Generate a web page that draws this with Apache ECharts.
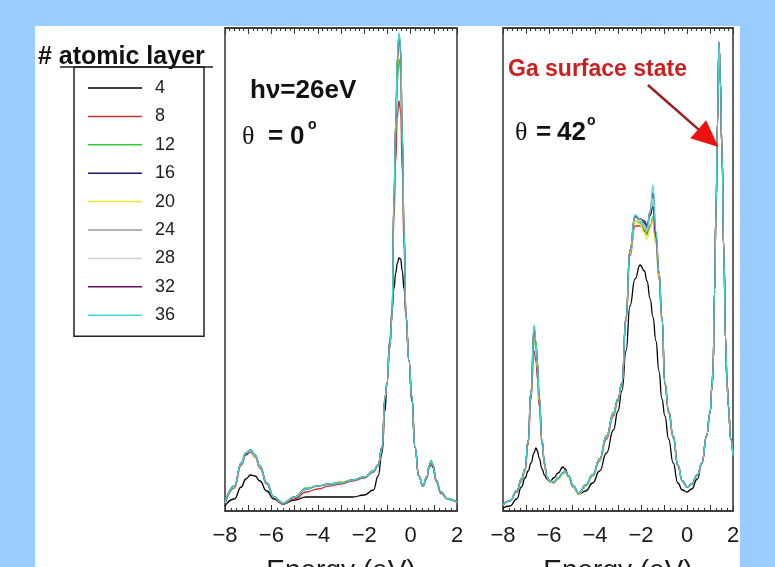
<!DOCTYPE html>
<html><head><meta charset="utf-8">
<script src="https://cdn.jsdelivr.net/npm/echarts@6/dist/echarts.min.js"></script>
<style>html,body{margin:0;padding:0;background:#99ccff;}#c{width:775px;height:567px;}</style>
</head><body><div id="c"></div>
<script>
// ---------- DATA ----------
const layerNames = ['4','8','12','16','20','24','28','32','36'];
const xTicks = [-8,-6,-4,-2,0,2];

// theta = 0 panel (hv = 26 eV)
const energyL = [-8,-7.6,-7.3,-7.1,-6.9,-6.7,-6.5,-6.2,-5.9,-5.5,-5.0,-4.5,-4.0,-3.5,-3.0,-2.5,-2.0,-1.6,-1.4,-1.23,-1.1,-1.02,-0.9,-0.8,-0.72,-0.64,-0.57,-0.5,-0.43,-0.36,-0.28,-0.2,-0.07,0.05,0.19,0.35,0.53,0.7,0.8,0.88,0.96,1.1,1.3,1.6,2.0];
const L4  = [5,12,24,32,36,35,30,20,12,7, 11,14,14,14,14,14,16,21,35,58, 100,128,170,200,222,238,248,253,252,240, 222,195,150,110,64,35,25,33,43,48, 44,30,18,12,9];
const L8  = [7,23,46,56,59,54,43,27,13,7, 12,19,22,25,27,30,33,39,45,62, 112,127,163,193,290,350,395,410,400,340, 260,192,150,114,63,35,25,33,44,49, 45,30,18,12,9];
const L12 = [8,25,48,58,60,55,44,28,14,8, 14,23,25,27,29,31,34,40,46,64, 114,128,165,195,300,375,430,452,440,365, 272,195,150,115,64,35,25,34,45,50, 46,31,19,12,9];
const L16 = [8,24,47,57,60,56,45,28,14,8, 14,22,25,27,28,31,34,40,46,64, 114,128,165,195,308,385,448,470,458,375, 278,195,150,115,64,35,25,34,45,50, 46,31,19,12,9];
const L20 = [8,24,47,58,60,55,44,28,14,8, 14,22,25,27,29,31,34,40,46,63, 113,128,165,194,306,383,445,466,455,373, 276,194,150,115,64,35,25,34,45,50, 46,31,19,12,9];
const L24 = [8,25,48,58,61,56,45,28,14,8, 14,22,25,27,28,31,34,40,46,64, 114,128,165,195,309,387,450,472,460,377, 279,195,150,115,64,35,25,34,45,50, 46,31,19,12,9];
const L28 = [8,25,48,58,61,56,45,28,14,8, 14,22,25,27,28,31,34,40,46,64, 114,128,165,195,310,388,452,474,462,378, 280,195,150,115,64,35,25,34,45,50, 46,31,19,12,9];
const L32 = [8,25,48,58,61,56,45,28,14,8, 14,22,25,27,28,31,34,40,46,64, 114,128,165,195,310,389,453,476,463,379, 280,195,150,115,64,35,25,34,45,50, 46,31,19,12,9];
const L36 = [8,25,48,58,61,56,45,28,14,8, 14,22,25,27,28,31,34,40,46,64, 114,128,165,195,311,390,455,478,465,380, 280,195,150,115,64,35,25,34,45,50, 46,31,19,12,9];

// theta = 42 panel
const energyR = [-8,-7.7,-7.4,-7.2,-7.04,-6.91,-6.78,-6.65,-6.57,-6.5, -6.43,-6.3,-6.2,-6.09,-5.96,-5.8,-5.6,-5.4,-5.3,-5.15, -4.95,-4.7,-4.4,-4.1,-3.8,-3.5,-3.2,-3.0,-2.83,-2.65, -2.48,-2.26,-2.04,-1.85,-1.74,-1.6,-1.48,-1.35,-1.22,-1.09, -0.96,-0.8,-0.6,-0.4,-0.2,0.0,0.2,0.45,0.65,0.85, 1.0,1.09,1.13,1.2,1.26,1.33,1.39,1.45,1.52,1.6, 1.68,1.74,1.8,1.9,2.0];
const R4  = [3,5,12,24,33,40,48,58,63,60, 53,42,36,32,29,33,38,44,42,35, 24,17,20,28,40,58,81,100,120,160, 205,232,246,240,230,212,194,170,140,112, 95,72,48,28,21,19,22,32,48,75, 98,125,140,220,300,390,466,430,361,260, 170,128,105,72,55];
const R8  = [6,10,19,30,40,66,112,160,150,132, 105,66,46,33,29,28,32,37,39,34, 24,17,25,35,50,72,95,110,126,190, 255,285,285,280,278,285,290,268,232,190, 126,98,73,45,30,24,27,36,48,75, 98,125,140,220,300,388,465,428,360,260, 170,128,105,72,55];
const R12 = [6,10,20,31,41,69,117,175,162,142, 110,69,47,34,29,28,32,37,39,34, 24,17,25,35,51,74,97,111,127,192, 258,290,288,282,276,285,294,270,236,192, 127,99,74,46,30,24,27,36,48,75, 98,125,140,220,300,389,467,429,361,260, 170,128,105,72,55];
const R16 = [6,10,20,32,42,70,120,180,166,146, 113,70,48,34,30,29,33,38,40,35, 25,18,26,36,52,75,98,112,128,194, 261,294,292,288,284,300,318,278,238,194, 128,100,75,46,30,24,27,36,48,75, 98,125,140,220,300,390,468,430,361,260, 170,128,105,72,55];
const R20 = [6,10,20,31,41,69,117,176,163,143, 111,69,47,34,29,28,32,37,39,34, 24,17,25,35,51,74,97,111,127,192, 258,290,286,278,272,282,290,266,234,192, 127,99,74,46,30,24,27,36,48,75, 98,125,140,220,300,389,467,429,361,260, 170,128,105,72,55];
const R24 = [6,10,20,32,42,70,120,182,168,147, 114,70,48,34,30,29,33,38,40,35, 25,18,26,36,52,75,98,112,128,194, 261,294,290,284,280,295,308,274,238,194, 128,100,75,46,30,24,27,36,48,75, 98,125,140,220,300,390,468,430,361,260, 170,128,105,72,55];
const R28 = [6,10,20,32,42,70,121,183,168,147, 114,71,48,34,30,29,33,38,40,35, 25,18,26,36,52,75,98,112,128,194, 261,295,291,285,281,297,312,276,239,194, 128,100,75,46,30,24,27,36,48,75, 98,125,140,220,300,390,469,430,361,260, 170,128,105,72,55];
const R32 = [6,10,20,32,42,71,121,184,169,148, 115,71,48,34,30,29,33,38,40,35, 25,18,26,36,52,75,98,112,128,194, 261,295,292,290,286,296,304,274,239,194, 128,100,75,46,30,24,27,36,48,75, 98,125,140,220,300,390,469,430,361,260, 170,128,105,72,55];
const R36 = [6,10,20,32,42,71,121,186,170,148, 115,71,48,34,30,29,33,38,40,35, 25,18,26,36,52,75,98,112,128,194, 261,296,292,286,282,300,326,280,240,194, 128,100,75,46,30,24,27,36,48,75, 98,125,140,220,300,390,469,430,361,260, 170,128,105,72,55];

// arrow annotation (data coords of the theta=42 panel)
const arrowTail = [-1.7, 426];
const arrowTip = [1.37, 364];

// ---------- STYLE ----------
const colors = ['#000000','#c83232','#33cc33','#1a1a70','#e6e63a','#999999','#cfcfcf','#6a0a6a','#40d8d0'];
const leftSets = [L4,L8,L12,L16,L20,L24,L28,L32,L36];
const rightSets = [R4,R8,R12,R16,R20,R24,R28,R32,R36];
const FONT = 'Liberation Sans, Arial, sans-serif';

const chart = echarts.init(document.getElementById('c'), null, {renderer:'canvas'});

function xAxisBottom(g){
  return {type:'value', gridIndex:g, position:'bottom', min:-8, max:2, interval:1,
    axisLine:{show:true, onZero:false, lineStyle:{color:'#333', width:1.5}},
    axisTick:{show:true, inside:true, length:6, lineStyle:{color:'#333', width:1}},
    minorTick:{show:true, splitNumber:4, length:3, lineStyle:{color:'#333', width:1}},
    splitLine:{show:false},
    axisLabel:{fontSize:22, color:'#1a1a1a', margin:14, fontFamily:FONT,
      formatter: v => (xTicks.indexOf(v) >= 0 ? String(v).replace('-', '\u2212') : '')},
    name:'Energy (eV)', nameLocation:'middle', nameGap:46,
    nameTextStyle:{fontSize:28, color:'#1a1a1a', fontFamily:FONT}};
}
function xAxisTop(g){
  return {type:'value', gridIndex:g, position:'top', min:-8, max:2, interval:1,
    axisLine:{show:true, onZero:false, lineStyle:{color:'#333', width:1.5}},
    axisTick:{show:true, inside:true, length:6, lineStyle:{color:'#333', width:1}},
    minorTick:{show:true, splitNumber:5, length:3, lineStyle:{color:'#333', width:1}},
    splitLine:{show:false}, axisLabel:{show:false}};
}

const series = [];
layerNames.forEach((n,i)=>{
  series.push({name:n, type:'line', xAxisIndex:0, yAxisIndex:0, symbol:'none', smooth:0.5, smoothMonotone:'x',
    lineStyle:{color:colors[i], width:1.3}, itemStyle:{color:colors[i]},
    data: energyL.map((e,k)=>[e, leftSets[i][k]])});
  series.push({name:n, type:'line', xAxisIndex:2, yAxisIndex:1, symbol:'none', smooth:0.5, smoothMonotone:'x',
    lineStyle:{color:colors[i], width:1.3}, itemStyle:{color:colors[i]},
    data: energyR.map((e,k)=>[e, rightSets[i][k]])});
});

function txt(id, x, y, text, font, fill){
  return {type:'text', id:id, x:x, y:y, z:50,
    style:{text:text, font:font, fill:fill||'#111', textVerticalAlign:'middle', verticalAlign:'middle', textAlign:'left', align:'left'}};
}

const baseGraphics = [
  {type:'rect', id:'paper', z:-100, silent:true, shape:{x:35, y:26, width:705, height:541}, style:{fill:'#ffffff'}},
  txt('ttl', 38, 57, '# atomic layer', 'bold 25px Liberation Sans', '#111'),
  {type:'line', id:'ul', z:50, shape:{x1:60, y1:67, x2:213, y2:67}, style:{stroke:'#222', lineWidth:1.5}},
  txt('hv', 250, 91, 'h\u03bd=26eV', 'bold 26px Liberation Sans', '#111'),
  txt('th0', 242, 137, '\u03b8', '26px Liberation Serif', '#111'),
  txt('eq0', 268, 137, '=', 'bold 26px Liberation Sans', '#111'),
  txt('v0', 290, 137, '0', 'bold 26px Liberation Sans', '#111'),
  txt('s0', 308, 125, 'o', 'bold 14px Liberation Sans', '#111'),
  txt('ga', 508, 70, 'Ga surface state', 'bold 23px Liberation Sans', '#cc2020'),
  txt('th1', 515, 133, '\u03b8', '26px Liberation Serif', '#111'),
  txt('eq1', 536, 133, '=', 'bold 26px Liberation Sans', '#111'),
  txt('v1', 557, 133, '42', 'bold 26px Liberation Sans', '#111'),
  txt('s1', 587, 121, 'o', 'bold 14px Liberation Sans', '#111')
];

chart.setOption({
  animation:false,
  backgroundColor:'#99ccff',
  grid:[
    {left:225, top:28, width:232, height:483, outerBoundsMode:'none', containLabel:false, show:true, borderColor:'#333', borderWidth:1.5, backgroundColor:'#ffffff'},
    {left:503, top:28, width:230, height:483, outerBoundsMode:'none', containLabel:false, show:true, borderColor:'#333', borderWidth:1.5, backgroundColor:'#ffffff'}
  ],
  xAxis:[xAxisBottom(0), xAxisTop(0), xAxisBottom(1), xAxisTop(1)],
  yAxis:[
    {type:'value', gridIndex:0, min:0, max:483, show:false},
    {type:'value', gridIndex:1, min:0, max:483, show:false}
  ],
  legend:{
    data:layerNames.map(n=>({name:n, icon:'rect'})), orient:'vertical', left:74, top:67,
    padding:[12,29,12,14], itemGap:10.4, itemWidth:54, itemHeight:1.5,
    borderColor:'#222', borderWidth:1.5, backgroundColor:'#ffffff',
    textStyle:{fontSize:18, color:'#222', fontFamily:FONT, padding:[0,0,0,8]},
    selectedMode:false
  },
  graphic: baseGraphics,
  series: series
});

// arrow placed in data coordinates of the right panel
const p0 = chart.convertToPixel({gridIndex:1}, arrowTail);
const p1 = chart.convertToPixel({gridIndex:1}, arrowTip);
const dx = p1[0]-p0[0], dy = p1[1]-p0[1], len = Math.sqrt(dx*dx+dy*dy);
const ux = dx/len, uy = dy/len, nx = -uy, ny = ux;
const headLen = 27, headHalf = 12;
const bx = p1[0]-ux*headLen, by = p1[1]-uy*headLen;
chart.setOption({graphic: baseGraphics.concat([
  {type:'line', id:'arrLine', z:60, shape:{x1:p0[0], y1:p0[1], x2:bx+ux*3, y2:by+uy*3}, style:{stroke:'#9a2020', lineWidth:2.5}},
  {type:'polygon', id:'arrHead', z:61, shape:{points:[[p1[0],p1[1]],[bx+nx*headHalf, by+ny*headHalf],[bx-nx*headHalf, by-ny*headHalf]]}, style:{fill:'#ee1111'}}
])});
</script></body></html>
